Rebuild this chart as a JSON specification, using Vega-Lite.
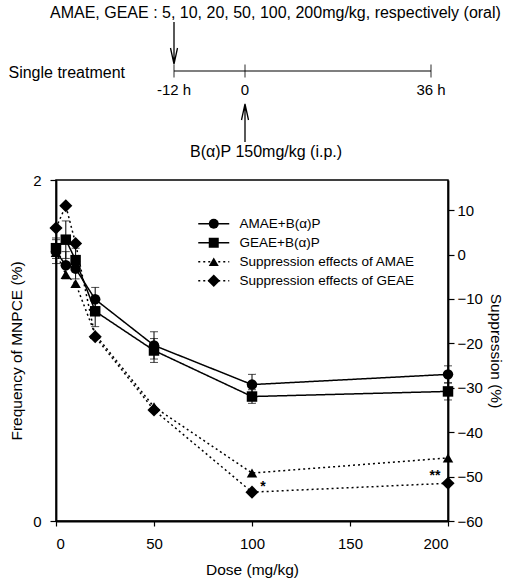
{
  "$schema": "https://vega.github.io/schema/vega-lite/v6.json",
  "autosize": {"type": "none"},
  "width": 392,
  "height": 341,
  "padding": {"left": 56, "top": 180, "right": 58, "bottom": 61},
  "background": "white",
  "config": {
    "font": "Liberation Sans",
    "view": {"stroke": "black", "strokeWidth": 1.5},
    "axis": {
      "grid": false,
      "domainColor": "black",
      "domainWidth": 1.8,
      "tickColor": "black",
      "tickWidth": 1.2,
      "labelColor": "black",
      "titleColor": "black",
      "labelFont": "Liberation Sans",
      "titleFont": "Liberation Sans",
      "titleFontWeight": "normal",
      "labelFontSize": 15,
      "titleFontSize": 15.5
    },
    "legend": {"labelFont": "Liberation Sans", "labelColor": "black"}
  },
  "datasets": {
    "mnpce": [
      {"dose": 0, "series": "AMAE+B(α)P", "freq": 1.58, "sd": 0.07},
      {"dose": 5, "series": "AMAE+B(α)P", "freq": 1.50, "sd": 0.08},
      {"dose": 10, "series": "AMAE+B(α)P", "freq": 1.48, "sd": 0.06},
      {"dose": 20, "series": "AMAE+B(α)P", "freq": 1.30, "sd": 0.07},
      {"dose": 50, "series": "AMAE+B(α)P", "freq": 1.03, "sd": 0.08},
      {"dose": 100, "series": "AMAE+B(α)P", "freq": 0.80, "sd": 0.06},
      {"dose": 200, "series": "AMAE+B(α)P", "freq": 0.86, "sd": 0.05},
      {"dose": 0, "series": "GEAE+B(α)P", "freq": 1.60, "sd": 0.06},
      {"dose": 5, "series": "GEAE+B(α)P", "freq": 1.65, "sd": 0.11},
      {"dose": 10, "series": "GEAE+B(α)P", "freq": 1.53, "sd": 0.07},
      {"dose": 20, "series": "GEAE+B(α)P", "freq": 1.23, "sd": 0.09},
      {"dose": 50, "series": "GEAE+B(α)P", "freq": 1.00, "sd": 0.07},
      {"dose": 100, "series": "GEAE+B(α)P", "freq": 0.73, "sd": 0.04},
      {"dose": 200, "series": "GEAE+B(α)P", "freq": 0.76, "sd": 0.05}
    ],
    "suppression": [
      {"dose": 0, "series": "Suppression effects of AMAE", "suppression": 0.5},
      {"dose": 5, "series": "Suppression effects of AMAE", "suppression": -4.5},
      {"dose": 10, "series": "Suppression effects of AMAE", "suppression": -6.5},
      {"dose": 20, "series": "Suppression effects of AMAE", "suppression": -18},
      {"dose": 50, "series": "Suppression effects of AMAE", "suppression": -34.3},
      {"dose": 100, "series": "Suppression effects of AMAE", "suppression": -49.2},
      {"dose": 200, "series": "Suppression effects of AMAE", "suppression": -45.8},
      {"dose": 0, "series": "Suppression effects of GEAE", "suppression": 6},
      {"dose": 5, "series": "Suppression effects of GEAE", "suppression": 11},
      {"dose": 10, "series": "Suppression effects of GEAE", "suppression": 2.5},
      {"dose": 20, "series": "Suppression effects of GEAE", "suppression": -18.5},
      {"dose": 50, "series": "Suppression effects of GEAE", "suppression": -35},
      {"dose": 100, "series": "Suppression effects of GEAE", "suppression": -53.5},
      {"dose": 200, "series": "Suppression effects of GEAE", "suppression": -51.5}
    ],
    "significance": [
      {"dose": 100, "suppression": -53.5, "mark": "*"},
      {"dose": 200, "suppression": -51.5, "mark": "**"}
    ],
    "schedule": [
      {"schedule": "Single treatment", "start": -12, "end": 36}
    ],
    "events": [
      {"hour": -12, "tick": "-12 h", "route": "oral", "treatment": "AMAE, GEAE : 5, 10, 20, 50, 100, 200mg/kg, respectively (oral)"},
      {"hour": 0, "tick": "0", "route": "i.p.", "treatment": "B(α)P 150mg/kg (i.p.)"},
      {"hour": 36, "tick": "36 h", "route": "end", "treatment": ""}
    ]
  },
  "layer": [
    {
      "layer": [
        {
          "data": {"name": "mnpce"},
          "encoding": {
            "x": {
              "field": "dose", "type": "quantitative",
              "scale": {"domain": [0, 200], "nice": false, "zero": false},
              "axis": {"orient": "bottom", "values": [0, 50, 100, 150, 200], "tickSize": 5, "labelPadding": 10, "titlePadding": 11, "title": "Dose (mg/kg)"}
            },
            "y": {
              "field": "freq", "type": "quantitative",
              "scale": {"domain": [0, 2], "nice": false},
              "axis": {"orient": "left", "values": [0, 1, 2], "format": "d", "tickSize": 6, "labelPadding": 9, "titlePadding": 8, "title": "Frequency of MNPCE (%)"}
            }
          },
          "layer": [
            {
              "mark": {"type": "errorbar", "color": "black", "thickness": 1, "ticks": {"size": 8, "thickness": 1, "color": "black"}},
              "encoding": {
                "y": {"field": "freq", "type": "quantitative", "title": "Frequency of MNPCE (%)"},
                "yError": {"field": "sd"},
                "detail": {"field": "series", "type": "nominal"}
              }
            },
            {
              "mark": {"type": "line", "color": "black", "strokeWidth": 1.5},
              "encoding": {
                "strokeDash": {
                  "field": "series", "type": "nominal",
                  "scale": {"range": [[1, 0], [1, 0], [2, 3], [2, 3]]},
                  "legend": {
                    "orient": "none", "legendX": 151, "legendY": 37, "title": null, "padding": 0,
                    "symbolType": "M-3.1,0L3.1,0", "symbolSize": 100,
                    "symbolStrokeColor": "black", "symbolStrokeWidth": 1.5, "symbolFillColor": "transparent",
                    "labelFontSize": 13.5, "labelOffset": 19, "labelLimit": 400, "rowPadding": 4
                  }
                }
              }
            },
            {
              "mark": {"type": "point", "filled": true, "color": "black", "opacity": 1, "size": 110},
              "encoding": {
                "shape": {
                  "field": "series", "type": "nominal",
                  "scale": {
                    "domain": ["AMAE+B(α)P", "GEAE+B(α)P", "Suppression effects of AMAE", "Suppression effects of GEAE"],
                    "range": ["circle", "square", "triangle-up", "M0,-1.25L1.25,0L0,1.25L-1.25,0Z"]
                  },
                  "legend": {
                    "orient": "none", "legendX": 151, "legendY": 37, "title": null, "padding": 0,
                    "symbolSize": 100, "symbolFillColor": "black", "symbolStrokeColor": "black", "symbolStrokeWidth": 0,
                    "labelFontSize": 13.5, "labelOffset": 19, "labelLimit": 400, "labelOpacity": 0, "rowPadding": 4
                  }
                }
              }
            }
          ]
        },
        {
          "encoding": {
            "x": {"field": "dose", "type": "quantitative"},
            "y": {
              "field": "suppression", "type": "quantitative",
              "scale": {"domain": [-60, 16.8], "nice": false, "zero": false},
              "axis": {"orient": "right", "values": [-60, -50, -40, -30, -20, -10, 0, 10], "tickSize": 6, "labelPadding": 3, "titlePadding": 5, "title": "Suppression (%)"}
            }
          },
          "layer": [
            {
              "data": {"name": "suppression"},
              "mark": {"type": "line", "color": "black", "strokeWidth": 1.5},
              "encoding": {
                "strokeDash": {"field": "series", "type": "nominal"}
              }
            },
            {
              "data": {"name": "suppression"},
              "mark": {"type": "point", "filled": true, "color": "black", "opacity": 1, "size": 110},
              "encoding": {
                "shape": {
                  "field": "series", "type": "nominal",
                  "scale": {
                    "domain": ["AMAE+B(α)P", "GEAE+B(α)P", "Suppression effects of AMAE", "Suppression effects of GEAE"],
                    "range": ["circle", "square", "triangle-up", "M0,-1.25L1.25,0L0,1.25L-1.25,0Z"]
                  }
                }
              }
            },
            {
              "data": {"name": "significance"},
              "transform": [{"filter": "datum.mark == '*'"}],
              "mark": {"type": "text", "color": "black", "fontSize": 14, "fontWeight": "bold", "dx": 11, "dy": -5},
              "encoding": {"text": {"field": "mark"}}
            },
            {
              "data": {"name": "significance"},
              "transform": [{"filter": "datum.mark == '**'"}],
              "mark": {"type": "text", "color": "black", "fontSize": 14, "fontWeight": "bold", "dx": -13, "dy": -7},
              "encoding": {"text": {"field": "mark"}}
            }
          ]
        }
      ],
      "resolve": {"scale": {"y": "independent"}}
    },
    {
      "encoding": {
        "x": {
          "type": "quantitative",
          "scale": {"domain": [-12, 0, 36], "range": [118, 189, 375], "nice": false, "zero": false},
          "axis": null
        },
        "y": {
          "type": "nominal",
          "scale": {"type": "point", "domain": ["oral text", "oral arrow", "timeline", "hour labels", "i.p. arrow", "i.p. text"], "range": [-165, -25], "padding": 0},
          "axis": null
        }
      },
      "layer": [
        {
          "data": {"name": "schedule"},
          "mark": {"type": "rule", "color": "black", "strokeWidth": 1.2},
          "encoding": {
            "x": {"field": "start", "type": "quantitative"},
            "x2": {"field": "end"},
            "y": {"datum": "timeline", "type": "nominal"}
          }
        },
        {
          "data": {"name": "schedule"},
          "mark": {"type": "text", "align": "right", "baseline": "middle", "fontSize": 16, "color": "black", "dx": -49, "dy": 2},
          "encoding": {
            "x": {"field": "start", "type": "quantitative"},
            "y": {"datum": "timeline", "type": "nominal"},
            "text": {"field": "schedule"}
          }
        },
        {
          "data": {"name": "events"},
          "mark": {"type": "tick", "color": "black", "thickness": 1.2, "size": 13},
          "encoding": {
            "x": {"field": "hour", "type": "quantitative"},
            "y": {"datum": "timeline", "type": "nominal"}
          }
        },
        {
          "data": {"name": "events"},
          "mark": {"type": "text", "align": "center", "baseline": "middle", "fontSize": 15, "color": "black", "dy": -9},
          "encoding": {
            "x": {"field": "hour", "type": "quantitative"},
            "y": {"datum": "hour labels", "type": "nominal"},
            "text": {"field": "tick"}
          }
        },
        {
          "data": {"name": "events"},
          "transform": [{"filter": "datum.route == 'oral'"}],
          "mark": {"type": "point", "shape": "M0,-1.05L0,1.05M-0.175,0.25L0,1.05L0.175,0.25", "filled": false, "stroke": "black", "strokeWidth": 1.3, "size": 1600, "opacity": 1},
          "encoding": {
            "x": {"field": "hour", "type": "quantitative"},
            "y": {"datum": "oral arrow", "type": "nominal"}
          }
        },
        {
          "data": {"name": "events"},
          "transform": [{"filter": "datum.route == 'i.p.'"}],
          "mark": {"type": "point", "shape": "M0,0.75L0,-1.15M-0.175,-0.35L0,-1.15L0.175,-0.35", "filled": false, "stroke": "black", "strokeWidth": 1.3, "size": 1600, "opacity": 1},
          "encoding": {
            "x": {"field": "hour", "type": "quantitative"},
            "y": {"datum": "i.p. arrow", "type": "nominal"}
          }
        },
        {
          "data": {"name": "events"},
          "transform": [{"filter": "datum.route == 'oral'"}],
          "mark": {"type": "text", "align": "left", "baseline": "middle", "fontSize": 16, "color": "black", "dx": -124, "dy": -2},
          "encoding": {
            "x": {"field": "hour", "type": "quantitative"},
            "y": {"datum": "oral text", "type": "nominal"},
            "text": {"field": "treatment"}
          }
        },
        {
          "data": {"name": "events"},
          "transform": [{"filter": "datum.route == 'i.p.'"}],
          "mark": {"type": "text", "align": "left", "baseline": "middle", "fontSize": 16, "color": "black", "dx": -55, "dy": -3},
          "encoding": {
            "x": {"field": "hour", "type": "quantitative"},
            "y": {"datum": "i.p. text", "type": "nominal"},
            "text": {"field": "treatment"}
          }
        }
      ]
    }
  ],
  "resolve": {"scale": {"x": "independent", "y": "independent"}}
}
